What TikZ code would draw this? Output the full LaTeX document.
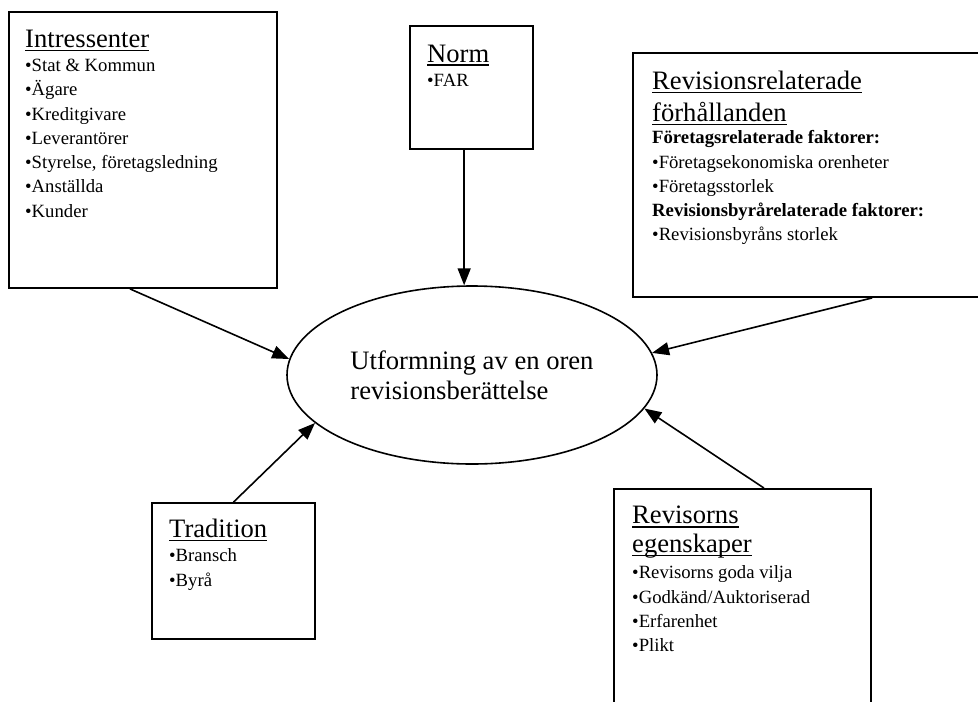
\documentclass[tikz,border=0pt]{standalone}
\usepackage{fontspec}
\setmainfont{Liberation Serif}
\usepackage{tikz}
\usetikzlibrary{shapes.geometric,arrows.meta}

\newcommand{\rubrik}[1]{{\fontsize{26.6}{30}\selectfont\setbox0\hbox{#1}\rlap{\rule[-3.8pt]{\wd0}{1.4pt}}\box0}}

\begin{document}
\begin{tikzpicture}[x=1pt,y=-1pt,
  ruta/.style={draw,line width=1.8pt,rectangle,inner sep=0pt},
  innehall/.style={anchor=north west,inner sep=0pt,align=left,font=\fontsize{18.7}{24.3}\selectfont},
  pil/.style={line width=1.6pt,-{Triangle[length=17pt,width=13pt]}}]
\useasboundingbox (0,0) rectangle (978,702);
\clip (0,0) rectangle (978,702);

\node[ruta,minimum width=268pt,minimum height=276pt] (intr) at (143,150) {};
\node[ruta,minimum width=123pt,minimum height=123pt] (norm) at (471.5,87.5) {};
\node[ruta,minimum width=367pt,minimum height=244pt] (rel) at (816.5,175) {};
\node[ruta,minimum width=163pt,minimum height=136pt] (trad) at (233.5,571) {};
\node[ruta,minimum width=257pt,minimum height=262pt] (revi) at (742.5,620) {};
\node[ellipse,draw,line width=1.6pt,minimum width=370pt,minimum height=178pt,inner sep=0pt,align=left,font=\fontsize{26.6}{30}\selectfont] (ell) at (472,375) {Utformning av en oren\\revisionsberättelse};

\node[innehall] (intrtext) at (25,29.5) {\rubrik{Intressenter}\\•Stat \& Kommun\\•Ägare\\•Kreditgivare\\•Leverantörer\\•Styrelse, företagsledning\\•Anställda\\•Kunder};
\node[innehall] (normtext) at (427,44.4) {\rubrik{Norm}\\•FAR};
\node[innehall] (reltext) at (652,71) {\rubrik{Revisionsrelaterade}\\[7.5pt]\rubrik{förhållanden}\\[-2pt]\textbf{Företagsrelaterade faktorer:}\\•Företagsekonomiska orenheter\\•Företagsstorlek\\\textbf{Revisionsbyrårelaterade faktorer:}\\•Revisionsbyråns storlek};
\node[innehall] (tradtext) at (169,519) {\rubrik{Tradition}\\•Bransch\\•Byrå};
\node[innehall] (revitext) at (632,506) {\rubrik{Revisorns}\\[4.5pt]\rubrik{egenskaper}\\[2pt]•Revisorns goda vilja\\•Godkänd/Auktoriserad\\•Erfarenhet\\•Plikt};

\draw[pil] ([xshift=-13pt]intr.south) -- (ell.175);
\draw[pil] (norm.south -| ell.95) -- (ell.95);
\draw[pil] ([xshift=240pt]rel.south west) -- (ell.7);
\draw[pil] (trad.north) -- (ell.197);
\draw[pil] ([xshift=21.5pt]revi.north) -- (ell.349);
\end{tikzpicture}
\end{document}
